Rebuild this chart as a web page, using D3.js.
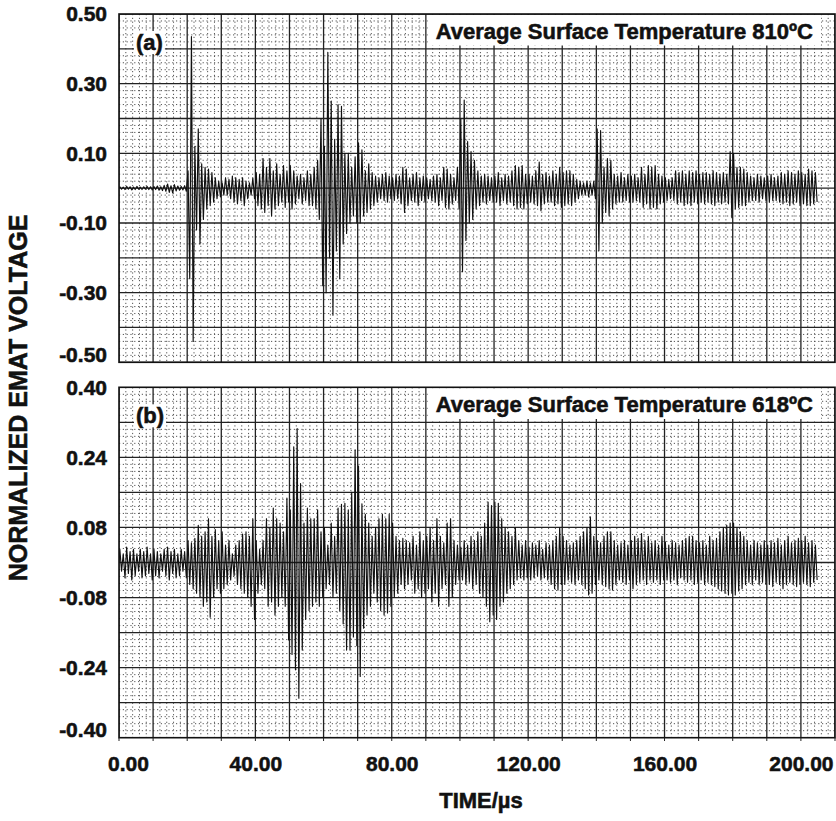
<!DOCTYPE html>
<html><head><meta charset="utf-8">
<script src="https://cdn.jsdelivr.net/npm/d3@7"></script>
<style>
html,body{margin:0;padding:0;background:#fff;}
svg{display:block;font-family:"Liberation Sans",Arial,Helvetica,sans-serif;font-weight:bold;}
.heavy{stroke:#111;stroke-width:0.55px;paint-order:fill;}
</style></head><body>
<svg id="chart" width="836" height="821"></svg>
<script>
// ---------- data ----------
const xTickLabels = [0, 40, 80, 120, 160, 200];
const yTicksA = [0.5, 0.3, 0.1, -0.1, -0.3, -0.5];
const yTicksB = [0.4, 0.24, 0.08, -0.08, -0.24, -0.4];
const titleA = "Average Surface Temperature 810ºC";
const titleB = "Average Surface Temperature 618ºC";
const xTitle = "TIME/µs";
const yTitle = "NORMALIZED EMAT VOLTAGE";

// positive peak of each 1 µs oscillation (panel a, 810 °C)
const posA = [
 .004,.003,.005,.004,.003,.005,.003,.004,.005,.004,
 .005,.006,.004,.008,.012,.007,.01,.006,.005,.007,
 .05,.435,.12,.17,.07,.06,.055,.045,.03,.02,
 .015,.03,.025,.035,.03,.025,.03,.02,.015,.03,
 .045,.04,.085,.06,.085,.05,.07,.04,.065,.05,
 .065,.05,.035,.04,.03,.05,.04,.06,.08,.2,
 .12,.39,.25,.14,.24,.235,.1,.1,.06,.09,
 .13,.11,.05,.07,.045,.035,.03,.04,.045,.035,
 .03,.04,.035,.06,.055,.03,.04,.045,.03,.035,
 .03,.025,.035,.04,.03,.06,.055,.04,.03,.06,
 .2,.253,.134,.105,.08,.05,.035,.04,.035,.03,
 .035,.045,.03,.04,.035,.05,.065,.06,.065,.04,
 .04,.035,.05,.075,.04,.045,.035,.05,.04,.06,
 .045,.05,.05,.04,.025,.02,.015,.02,.015,.02,
 .17,.165,.06,.085,.08,.04,.035,.045,.03,.04,
 .035,.04,.03,.06,.04,.065,.06,.065,.04,.035,
 .03,.025,.03,.05,.045,.05,.04,.05,.045,.05,
 .04,.045,.045,.04,.05,.045,.04,.045,.04,.105,
 .1,.06,.06,.055,.045,.035,.03,.04,.035,.03,
 .035,.04,.03,.035,.045,.04,.05,.045,.04,.05,
 .045,.04,.055,.05,.045
];
// negative trough of each 1 µs oscillation (panel a)
const negA = [
 -.003,-.004,-.003,-.005,-.004,-.003,-.004,-.003,-.004,-.005,
 -.004,-.006,-.007,-.009,-.012,-.014,-.008,-.006,-.005,-.009,
 -.26,-.44,-.12,-.16,-.09,-.06,-.05,-.04,-.03,-.025,
 -.02,-.02,-.03,-.04,-.045,-.035,-.05,-.03,-.02,-.03,
 -.05,-.06,-.07,-.05,-.08,-.06,-.05,-.04,-.055,-.04,
 -.06,-.045,-.03,-.045,-.035,-.05,-.05,-.06,-.09,-.28,
 -.3,-.2,-.365,-.18,-.26,-.16,-.13,-.1,-.08,-.1,
 -.1,-.08,-.07,-.06,-.05,-.04,-.03,-.035,-.04,-.03,
 -.035,-.03,-.045,-.07,-.05,-.035,-.04,-.05,-.035,-.04,
 -.03,-.035,-.04,-.05,-.035,-.055,-.06,-.045,-.035,-.06,
 -.24,-.15,-.1,-.09,-.06,-.05,-.04,-.045,-.035,-.04,
 -.04,-.05,-.035,-.045,-.04,-.05,-.06,-.055,-.06,-.045,
 -.04,-.045,-.05,-.065,-.045,-.04,-.04,-.05,-.045,-.055,
 -.05,-.045,-.05,-.04,-.03,-.02,-.02,-.025,-.02,-.03,
 -.18,-.1,-.07,-.08,-.06,-.045,-.04,-.04,-.035,-.04,
 -.04,-.035,-.04,-.055,-.045,-.06,-.055,-.06,-.045,-.04,
 -.035,-.03,-.035,-.045,-.04,-.05,-.045,-.05,-.04,-.045,
 -.04,-.045,-.04,-.045,-.05,-.04,-.045,-.04,-.045,-.085,
 -.06,-.055,-.05,-.05,-.04,-.035,-.035,-.04,-.03,-.035,
 -.04,-.035,-.035,-.04,-.045,-.04,-.05,-.045,-.04,-.05,
 -.045,-.05,-.05,-.045,-.04
];
// panel b, 618 °C
const posB = [
 .03,.02,.035,.025,.03,.02,.03,.025,.035,.02,
 .03,.025,.02,.03,.035,.025,.03,.02,.03,.025,
 .05,.045,.055,.085,.06,.07,.1,.06,.075,.05,
 .07,.04,.05,.02,.04,.05,.065,.07,.06,.1,
 .05,.03,.05,.1,.08,.124,.1,.09,.07,.147,
 .12,.264,.306,.18,.09,.124,.1,.1,.12,.07,
 .08,.04,.09,.06,.124,.133,.135,.12,.16,.257,
 .22,.134,.11,.09,.06,.08,.1,.11,.1,.11,
 .09,.06,.05,.055,.05,.045,.06,.04,.07,.05,
 .06,.08,.05,.1,.06,.045,.09,.1,.05,.04,
 .035,.05,.04,.06,.05,.07,.06,.09,.138,.13,
 .138,.135,.1,.08,.07,.06,.08,.05,.04,.05,
 .035,.045,.04,.05,.03,.045,.04,.05,.06,.08,
 .06,.05,.04,.045,.05,.06,.07,.08,.104,.06,
 .05,.045,.06,.07,.07,.05,.04,.045,.05,.04,
 .05,.06,.055,.066,.05,.06,.045,.05,.04,.06,
 .047,.04,.05,.045,.04,.05,.055,.06,.06,.05,
 .045,.05,.04,.06,.05,.055,.07,.08,.085,.09,
 .09,.08,.07,.06,.05,.04,.05,.045,.04,.05,
 .04,.05,.045,.055,.04,.05,.06,.045,.05,.055,
 .05,.06,.045,.05,.04
];
const negB = [
 -.02,-.035,-.025,-.04,-.03,-.02,-.035,-.03,-.025,-.04,
 -.03,-.035,-.02,-.03,-.04,-.025,-.035,-.03,-.02,-.035,
 -.05,-.06,-.07,-.08,-.1,-.09,-.125,-.08,-.06,-.07,
 -.06,-.05,-.04,-.03,-.05,-.06,-.07,-.08,-.1,-.13,
 -.07,-.05,-.06,-.1,-.09,-.12,-.1,-.08,-.1,-.177,
 -.21,-.245,-.31,-.2,-.13,-.11,-.1,-.09,-.1,-.08,
 -.06,-.05,-.08,-.07,-.11,-.14,-.2,-.2,-.17,-.19,
 -.26,-.15,-.12,-.1,-.07,-.09,-.11,-.12,-.115,-.1,
 -.08,-.07,-.05,-.06,-.05,-.04,-.07,-.06,-.08,-.07,
 -.06,-.09,-.07,-.1,-.06,-.05,-.1,-.08,-.05,-.04,
 -.04,-.05,-.045,-.06,-.05,-.07,-.08,-.1,-.135,-.12,
 -.13,-.1,-.09,-.07,-.06,-.05,-.04,-.035,-.04,-.035,
 -.04,-.035,-.03,-.04,-.035,-.04,-.05,-.06,-.063,-.05,
 -.05,-.04,-.045,-.05,-.04,-.05,-.06,-.074,-.07,-.05,
 -.04,-.05,-.055,-.06,-.063,-.05,-.04,-.045,-.05,-.04,
 -.06,-.05,-.045,-.04,-.05,-.04,-.045,-.04,-.05,-.04,
 -.04,-.045,-.04,-.05,-.035,-.04,-.045,-.04,-.05,-.045,
 -.04,-.05,-.045,-.05,-.055,-.06,-.065,-.07,-.074,-.07,
 -.074,-.065,-.06,-.05,-.045,-.05,-.04,-.05,-.045,-.05,
 -.05,-.055,-.045,-.05,-.06,-.05,-.045,-.05,-.055,-.05,
 -.045,-.05,-.055,-.045,-.04
];

// ---------- drawing ----------
const svg = d3.select("#chart");
const x = d3.scaleLinear().domain([0, 210]).range([119, 835]);
const fmt = d3.formatLocale({decimal: ".", thousands: ",", grouping: [3], currency: ["", ""], minus: "-"}).format(".2f");

const panels = [
  {tag: "a", label: "(a)", title: titleA, top: 14, bottom: 362.3, domain: [-0.5, 0.5], ticks: yTicksA, pos: posA, neg: negA, titleBase: 38.5},
  {tag: "b", label: "(b)", title: titleB, top: 387.3, bottom: 737.7, domain: [-0.4, 0.4], ticks: yTicksB, pos: posB, neg: negB, titleBase: 412}
];

panels.forEach(p => {
  const y = d3.scaleLinear().domain(p.domain).range([p.bottom, p.top]);
  const g = svg.append("g");
  const clipId = "clip" + p.tag;
  svg.append("clipPath").attr("id", clipId).append("rect")
    .attr("x", x(0)).attr("y", p.top).attr("width", x(210) - x(0)).attr("height", p.bottom - p.top);
  const grid = g.append("g").attr("clip-path", `url(#${clipId})`);

  const xs = d3.range(0, 106).map(k => k * 2);          // every 2 µs
  const ys = d3.range(0, 51).map(k => p.domain[0] + k * (p.domain[1] - p.domain[0]) / 50);

  // minor (dotted) grid
  grid.selectAll(".vmin").data(xs.filter((d, i) => i % 5 !== 0)).join("line")
    .attr("x1", d => x(d)).attr("x2", d => x(d)).attr("y1", p.top).attr("y2", p.bottom)
    .attr("stroke", "#555").attr("stroke-width", 1).attr("stroke-dasharray", "1.2,2.6");
  grid.selectAll(".hmin").data(ys.filter((d, i) => i % 5 !== 0)).join("line")
    .attr("y1", d => y(d)).attr("y2", d => y(d)).attr("x1", x(0)).attr("x2", x(210))
    .attr("stroke", "#555").attr("stroke-width", 1).attr("stroke-dasharray", "1.2,2.6");
  // major grid
  grid.selectAll(".vmaj").data(xs.filter((d, i) => i % 5 === 0)).join("line")
    .attr("x1", d => x(d)).attr("x2", d => x(d)).attr("y1", p.top).attr("y2", p.bottom)
    .attr("stroke", "#222").attr("stroke-width", 1.3);
  grid.selectAll(".hmaj").data(ys.filter((d, i) => i % 5 === 0)).join("line")
    .attr("y1", d => y(d)).attr("y2", d => y(d)).attr("x1", x(0)).attr("x2", x(210))
    .attr("stroke", "#222").attr("stroke-width", 1.3);

  // title with white backing
  const tg = g.append("g");
  const tt = tg.append("text").attr("class", "heavy").attr("x", 813).attr("y", p.titleBase).attr("text-anchor", "end")
    .attr("font-size", 22).attr("fill", "#111").text(p.title);
  const tb = tt.node().getBBox();
  tg.insert("rect", "text").attr("x", tb.x - 8).attr("y", p.top + 1).attr("width", tb.width + 16)
    .attr("height", tb.y + tb.height - p.top + 1).attr("fill", "#fff");

  // panel tag
  const lg = g.append("g");
  const lt = lg.append("text").attr("class", "heavy").attr("x", 136).attr("y", p.top + 36).attr("font-size", 22)
    .attr("fill", "#111").text(p.label);
  const lb = lt.node().getBBox();
  lg.insert("rect", "text").attr("x", lb.x - 2).attr("y", lb.y + 1).attr("width", lb.width + 4)
    .attr("height", lb.height - 2).attr("fill", "#fff");

  // signal: alternating peaks/troughs of each oscillation
  const pts = [[0, 0]];
  p.pos.forEach((v, i) => { pts.push([i + 0.25, v]); pts.push([i + 0.75, p.neg[i]]); });
  const line = d3.line().x(d => x(d[0])).y(d => y(d[1]));
  g.append("path").attr("d", line(pts)).attr("fill", "none").attr("stroke", "#111")
    .attr("stroke-width", 1.15).attr("stroke-linejoin", "round").attr("clip-path", `url(#${clipId})`);

  // frame
  g.append("rect").attr("x", x(0)).attr("y", p.top).attr("width", x(210) - x(0)).attr("height", p.bottom - p.top)
    .attr("fill", "none").attr("stroke", "#111").attr("stroke-width", 1.6);

  // y axis labels
  const ya = d3.axisLeft(y).tickValues(p.ticks).tickSize(0).tickPadding(12).tickFormat(fmt);
  const yg = g.append("g").attr("transform", `translate(${x(0)},0)`).call(ya);
  yg.select(".domain").remove();
  yg.selectAll("text").attr("class", "heavy").attr("font-size", 21).attr("font-family", "Liberation Sans, Arial, sans-serif")
    .attr("font-weight", "bold").attr("fill", "#111")
    .attr("dy", d => d === p.domain[0] ? "-0.05em" : "0.32em");
});

// x axis (bottom of lower panel)
const xa = d3.axisBottom(x).tickValues(xTickLabels).tickSize(0).tickPadding(18).tickFormat(fmt);
const xg = svg.append("g").attr("transform", "translate(0,737.7)").call(xa);
xg.select(".domain").remove();
xg.selectAll("text").attr("class", "heavy").attr("font-size", 21).attr("font-family", "Liberation Sans, Arial, sans-serif")
  .attr("font-weight", "bold").attr("fill", "#111")
  .attr("dx", d => d === 0 ? 9 : 0);
// small ticks below the frame
svg.append("g").selectAll("line").data(d3.range(0, 22).map(k => k * 10)).join("line")
  .attr("x1", d => x(d)).attr("x2", d => x(d)).attr("y1", 737.7).attr("y2", 741)
  .attr("stroke", "#222").attr("stroke-width", 1);

svg.append("text").attr("class", "heavy").attr("x", 481).attr("y", 808).attr("text-anchor", "middle")
  .attr("font-size", 22).attr("fill", "#111").text(xTitle);
svg.append("text").attr("class", "heavy").attr("transform", "translate(27,398) rotate(-90)").attr("text-anchor", "middle")
  .attr("font-size", 25).attr("fill", "#111").text(yTitle);
</script>
</body></html>
